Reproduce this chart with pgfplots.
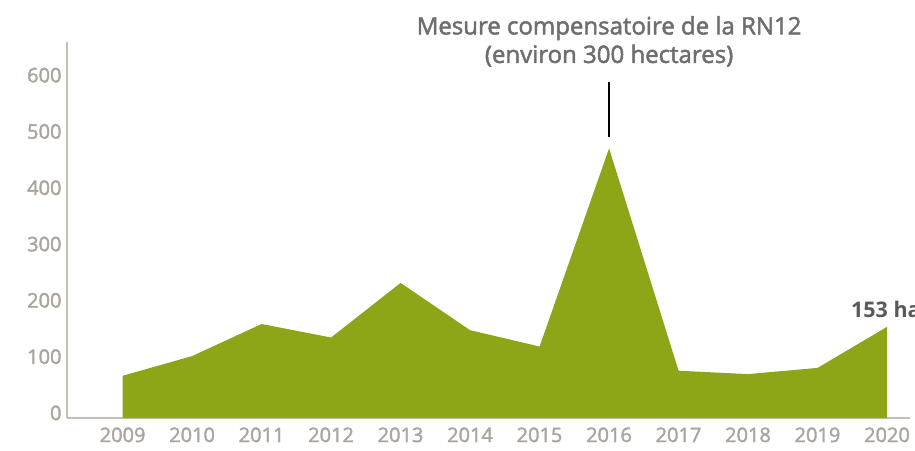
\documentclass[border=0pt]{standalone}
\usepackage{pgfplots}
\pgfplotsset{compat=1.18}
\usepackage{fontspec}
\setmainfont{Open Sans}
\newfontfamily\semibold{Open Sans}[FakeBold=2]
\definecolor{areagreen}{HTML}{8CA617}
\definecolor{ticklab}{HTML}{ABA59D}
\definecolor{axline}{HTML}{C4BFB8}
\definecolor{annot}{HTML}{6E6E6E}
\definecolor{valtxt}{HTML}{5A5A5A}
\begin{document}
\begin{tikzpicture}[x=1pt,y=1pt]
\begin{axis}[
  at={(67pt,32pt)}, anchor=south west,
  scale only axis, width=843pt, height=376pt,
  xmin=2008.2, xmax=2020.33, ymin=-9, ymax=659,
  axis x line*=bottom, axis y line*=left,
  axis line style={axline, line width=1.2pt, -},
  xtick={2009,...,2020},
  ytick={0,100,...,600},
  major tick length=0pt,
  /pgf/number format/assume math mode=true,
  /pgf/number format/1000 sep={},
  xticklabel style={font=\semibold\fontsize{20}{24}\selectfont, text=ticklab, yshift=-6pt},
  yticklabel style={font=\semibold\fontsize{20}{24}\selectfont, text=ticklab, xshift=-2pt},
  clip=false,
]
\addplot[fill=areagreen, draw=none] coordinates {
 (2009,-9) (2009,66) (2010,101) (2011,158) (2012,134) (2013,231) (2014,147)
 (2015,118) (2016,470) (2017,75) (2018,69) (2019,80) (2020,153) (2020,-9)
} -- cycle;
\draw[black, line width=2pt] (axis cs:2016,490) -- (axis cs:2016,588);
\node[font=\semibold\fontsize{24}{28.5}\selectfont, text=annot, align=center, anchor=center]
  at (axis cs:2016,660) {Mesure compensatoire de la RN12\\(environ 300 hectares)};
\node[font=\fontsize{21.5}{24}\selectfont\bfseries, text=valtxt, anchor=west, inner sep=0pt]
  at (axis cs:2019.48,183) {153 ha};
\end{axis}
\pgfresetboundingbox
\useasboundingbox (0,0) rectangle (915pt,450pt);
\end{tikzpicture}
\end{document}
